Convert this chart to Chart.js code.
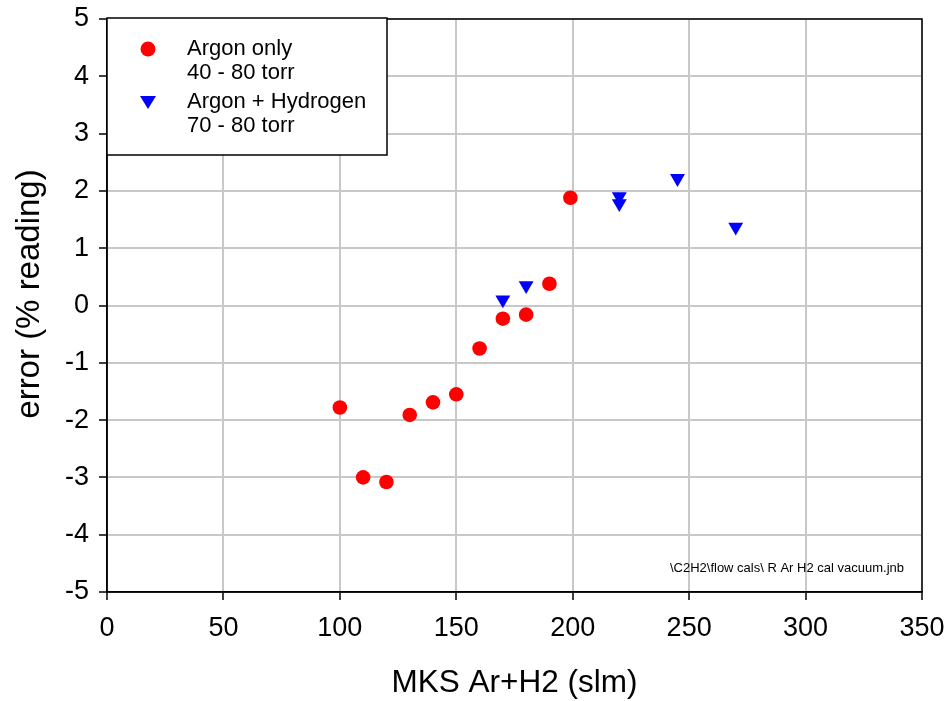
<!DOCTYPE html>
<html>
<head>
<meta charset="utf-8">
<script src="https://cdn.jsdelivr.net/npm/chart.js@4"></script>
<style>
  body { margin: 0; background: #fff; }
  #wrap { width: 949px; height: 701px; }
</style>
</head>
<body>
<div id="wrap"><canvas id="errChart" width="949" height="701"></canvas></div>
<script>
const argonFlow = [100, 110, 120, 130, 140, 150, 160, 170, 180, 190, 199];
const argonErr = [-1.78, -3.0, -3.08, -1.91, -1.69, -1.55, -0.75, -0.23, -0.16, 0.38, 1.88];
const h2Flow = [170, 180, 220, 220, 245, 270];
const h2Err = [0.1, 0.35, 1.9, 1.78, 2.22, 1.37];

const argonLegend = ['Argon only', '40 - 80 torr'];
const h2Legend = ['Argon + Hydrogen', '70 - 80 torr'];
const yTitle = 'error (% reading)';
const footnote = '\\C2H2\\flow cals\\ R Ar H2 cal vacuum.jnb';

const toPoints = (xs, ys) => xs.map((x, i) => ({ x: x, y: ys[i] }));

const fontFamily = '"Liberation Sans", Arial, sans-serif';

// frame, legend box, y title and file note drawn on top
const extras = {
  id: 'extras',
  afterDraw(chart) {
    const ctx = chart.ctx;
    const a = chart.chartArea;
    ctx.save();
    ctx.strokeStyle = '#000';
    ctx.lineWidth = 1.5;
    ctx.strokeRect(a.left, a.top, a.right - a.left, a.bottom - a.top);

    // legend
    ctx.fillStyle = '#fff';
    ctx.fillRect(a.left, 18, 280, 137);
    ctx.strokeRect(a.left, 18, 280, 137);

    ctx.fillStyle = '#ff0000';
    ctx.beginPath();
    ctx.arc(148, 49, 7.5, 0, Math.PI * 2);
    ctx.fill();

    ctx.fillStyle = '#0000ff';
    ctx.beginPath();
    ctx.moveTo(140, 96);
    ctx.lineTo(156, 96);
    ctx.lineTo(148, 109);
    ctx.closePath();
    ctx.fill();

    ctx.fillStyle = '#000';
    ctx.font = '22px ' + fontFamily;
    ctx.textBaseline = 'middle';
    ctx.textAlign = 'left';
    ctx.fillText(argonLegend[0], 187, 49);
    ctx.fillText(argonLegend[1], 187, 73);
    ctx.fillText(h2Legend[0], 187, 102);
    ctx.fillText(h2Legend[1], 187, 126);

    ctx.font = '13px ' + fontFamily;
    ctx.textAlign = 'right';
    ctx.fillText(footnote, 904, 568);

    // y axis title, sits a bit above the plot centre like the original
    ctx.translate(30, 294);
    ctx.rotate(-Math.PI / 2);
    ctx.textAlign = 'center';
    ctx.font = '33px ' + fontFamily;
    ctx.fillText(yTitle, 0, 0);
    ctx.restore();
  }
};

const ctx = document.getElementById('errChart').getContext('2d');
window.errChart = new Chart(ctx, {
  type: 'scatter',
  data: {
    datasets: [{
      label: argonLegend.join(' '),
      data: toPoints(argonFlow, argonErr),
      backgroundColor: '#ff0000',
      borderColor: '#ff0000',
      borderWidth: 0,
      pointRadius: 7.3,
      pointStyle: 'circle'
    }, {
      label: h2Legend.join(' '),
      data: toPoints(h2Flow, h2Err),
      backgroundColor: '#0000ff',
      borderColor: '#0000ff',
      borderWidth: 0,
      pointRadius: 8.6,
      pointStyle: 'triangle',
      pointRotation: 180
    }]
  },
  options: {
    responsive: false,
    animation: false,
    layout: { padding: { top: 19, right: 27, left: 0, bottom: 0 } },
    plugins: {
      legend: { display: false },
      tooltip: { enabled: false }
    },
    scales: {
      x: {
        type: 'linear',
        min: 0,
        max: 350,
        afterFit: s => { s.height = 109; s.paddingLeft = 0; s.paddingRight = 0; },
        ticks: { stepSize: 50, color: '#000', padding: 12, font: { size: 27, family: fontFamily } },
        grid: { color: '#c8c8c8', lineWidth: 2, tickColor: '#000', tickLength: 8, tickWidth: 1.5 },
        border: { color: '#000', width: 1.5 },
        title: {
          display: true,
          text: 'MKS Ar+H2 (slm)',
          color: '#000',
          font: { size: 31.5, family: fontFamily, lineHeight: 1 },
          padding: { top: 0, bottom: 2 }
        }
      },
      y: {
        min: -5,
        max: 5,
        afterFit: s => { s.width = 107; s.paddingTop = 0; s.paddingBottom = 0; },
        ticks: { stepSize: 1, color: '#000', padding: 10, font: { size: 27, family: fontFamily } },
        grid: { color: '#c8c8c8', lineWidth: 2, tickColor: '#000', tickLength: 8, tickWidth: 1.5 },
        border: { color: '#000', width: 1.5 }
      }
    }
  },
  plugins: [extras]
});
</script>
</body>
</html>
